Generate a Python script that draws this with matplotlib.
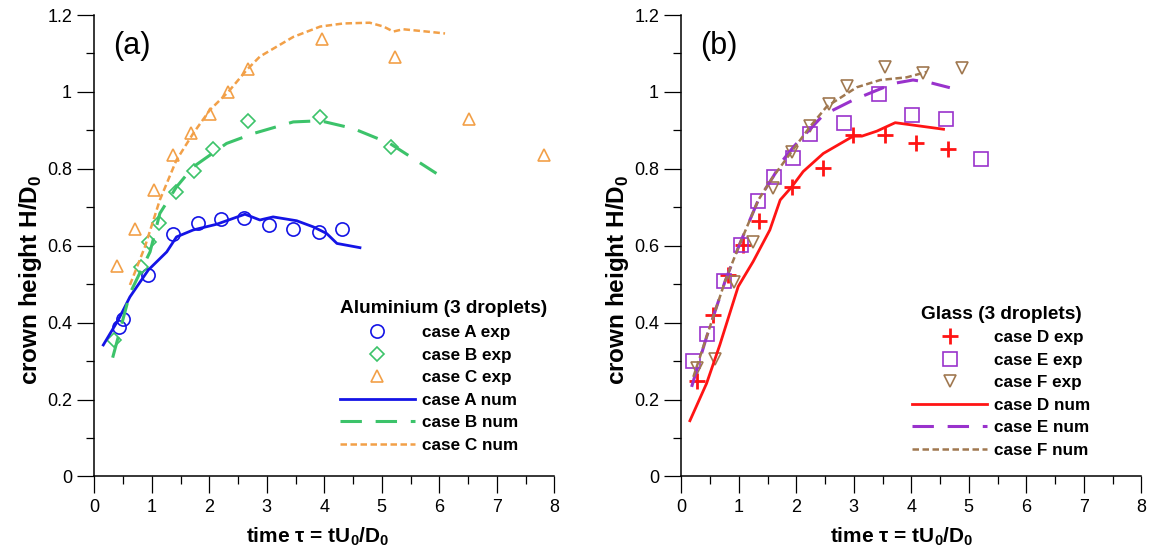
import numpy as np
import matplotlib
matplotlib.use("Agg")
import matplotlib.pyplot as plt
from matplotlib.ticker import MultipleLocator

# ---- data ----
# (a) aluminium, experiments
a_exp_x = [0.435, 0.504, 0.939, 1.363, 1.80, 2.20, 2.61, 3.04, 3.46, 3.90, 4.31]
a_exp_y = [0.389, 0.409, 0.524, 0.630, 0.658, 0.669, 0.671, 0.653, 0.644, 0.636, 0.643]
b_exp_x = [0.348, 0.807, 0.957, 1.13, 1.42, 1.74, 2.06, 2.68, 3.925, 5.16]
b_exp_y = [0.355, 0.544, 0.609, 0.660, 0.740, 0.794, 0.851, 0.925, 0.934, 0.858]
c_exp_x = [0.39, 0.708, 1.038, 1.374, 1.682, 2.012, 2.33, 2.668, 3.955, 5.23, 6.52, 7.82]
c_exp_y = [0.548, 0.644, 0.745, 0.836, 0.892, 0.942, 0.999, 1.059, 1.137, 1.091, 0.930, 0.836]
# (a) aluminium, simulations
a_num_x = [0.157, 0.417, 0.62, 0.94, 1.26, 1.43, 1.72, 2.13, 2.62, 2.88, 3.11, 3.52, 3.81, 4.04, 4.22, 4.62]
a_num_y = [0.342, 0.407, 0.467, 0.537, 0.584, 0.623, 0.641, 0.656, 0.682, 0.667, 0.675, 0.665, 0.649, 0.632, 0.606, 0.595]
b_num_x = [0.32, 0.62, 0.97, 1.14, 1.43, 1.72, 2.30, 2.77, 3.46, 3.93, 4.50, 5.14, 5.95]
b_num_y = [0.309, 0.476, 0.584, 0.684, 0.753, 0.805, 0.866, 0.892, 0.922, 0.925, 0.905, 0.866, 0.788]
c_num_x = [0.62, 0.88, 1.14, 1.43, 1.72, 2.01, 2.33, 2.65, 2.88, 3.46, 3.93, 4.33, 4.79, 5.03, 5.20, 5.37, 5.78, 6.10]
c_num_y = [0.498, 0.597, 0.719, 0.823, 0.892, 0.953, 1.000, 1.057, 1.092, 1.143, 1.170, 1.178, 1.180, 1.170, 1.157, 1.163, 1.157, 1.152]

# (b) glass, experiments
d_exp_x = [0.28, 0.546, 0.817, 1.08, 1.36, 1.92, 2.46, 2.99, 3.55, 4.09, 4.64]
d_exp_y = [0.249, 0.420, 0.524, 0.602, 0.664, 0.753, 0.801, 0.888, 0.888, 0.866, 0.851]
e_exp_x = [0.21, 0.44, 0.743, 1.04, 1.34, 1.62, 1.94, 2.23, 2.83, 3.43, 4.02, 4.60, 5.21]
e_exp_y = [0.300, 0.370, 0.509, 0.602, 0.716, 0.780, 0.829, 0.890, 0.918, 0.994, 0.940, 0.930, 0.825]
f_exp_x = [0.27, 0.586, 0.92, 1.25, 1.60, 1.92, 2.23, 2.57, 2.89, 3.55, 4.21, 4.88]
f_exp_y = [0.281, 0.305, 0.507, 0.610, 0.751, 0.845, 0.911, 0.968, 1.015, 1.066, 1.048, 1.063]
# (b) glass, simulations
d_num_x = [0.15, 0.44, 0.67, 0.99, 1.25, 1.54, 1.72, 1.92, 2.12, 2.47, 2.99, 3.14, 3.40, 3.72, 4.56]
d_num_y = [0.145, 0.242, 0.342, 0.494, 0.559, 0.641, 0.719, 0.753, 0.793, 0.840, 0.885, 0.885, 0.898, 0.920, 0.903]
e_num_x = [0.18, 0.44, 0.76, 1.02, 1.34, 1.60, 1.77, 1.95, 2.47, 2.99, 3.69, 4.03, 4.33, 4.67]
e_num_y = [0.233, 0.363, 0.507, 0.606, 0.719, 0.780, 0.823, 0.857, 0.940, 0.979, 1.022, 1.031, 1.024, 1.011]
f_num_x = [0.21, 0.44, 0.76, 1.02, 1.34, 1.60, 1.92, 2.24, 2.53, 3.05, 3.46, 3.92, 4.27]
f_num_y = [0.259, 0.363, 0.507, 0.606, 0.719, 0.780, 0.845, 0.910, 0.962, 1.012, 1.031, 1.038, 1.052]

BLUE = "#1414e6"
GREEN = "#3cc36a"
ORANGE = "#f2a048"
RED = "#ff1414"
PURPLE = "#9932cc"
BROWN = "#a07850"

plt.rcParams["font.family"] = ["Liberation Sans", "DejaVu Sans"]
plt.rcParams["mathtext.fontset"] = "custom"
plt.rcParams["mathtext.rm"] = "Liberation Sans"
plt.rcParams["mathtext.bf"] = "Liberation Sans:bold"

fig = plt.figure(figsize=(11.51, 5.52), dpi=100)
ax1 = fig.add_axes([0.0819, 0.1368, 0.3997, 0.836])
ax2 = fig.add_axes([0.5919, 0.1368, 0.3997, 0.836])

open_m = dict(linestyle="none", markerfacecolor="none", markeredgewidth=1.2)

ax1.plot(a_exp_x, a_exp_y, marker="o", markersize=9.5, markeredgecolor=BLUE, label="case A exp", **open_m)
ax1.plot(b_exp_x, b_exp_y, marker="D", markersize=7, markeredgecolor=GREEN, label="case B exp", **open_m)
ax1.plot(c_exp_x, c_exp_y, marker="^", markersize=9, markeredgecolor=ORANGE, label="case C exp", **open_m)
ax1.plot(a_num_x, a_num_y, color=BLUE, lw=2, label="case A num")
ax1.plot(b_num_x, b_num_y, color=GREEN, lw=2.2, dashes=(7, 4.5), label="case B num")
ax1.plot(c_num_x, c_num_y, color=ORANGE, lw=1.8, dashes=(2.6, 1.4), label="case C num")

ax2.plot(d_exp_x, d_exp_y, marker="+", markersize=11, markeredgecolor=RED, linestyle="none",
         markeredgewidth=2, label="case D exp")
ax2.plot(e_exp_x, e_exp_y, marker="s", markersize=10, markeredgecolor=PURPLE, label="case E exp", **open_m)
ax2.plot(f_exp_x, f_exp_y, marker="v", markersize=9, markeredgecolor=BROWN, label="case F exp", **open_m)
ax2.plot(d_num_x, d_num_y, color=RED, lw=2, label="case D num")
ax2.plot(e_num_x, e_num_y, color=PURPLE, lw=2.2, dashes=(7, 4.5), label="case E num")
ax2.plot(f_num_x, f_num_y, color=BROWN, lw=1.8, dashes=(2.6, 1.4), label="case F num")

panels = [(ax1, "(a)", "Aluminium (3 droplets)", 0.519, 0.037, 0.486, "left"),
          (ax2, "(b)", "Glass (3 droplets)", 0.487, 0.026, 0.48, "center")]
for ax, tag, title, lx, ly, xlx, align in panels:
    ax.set_xlim(0, 8)
    ax.set_ylim(0, 1.2)
    ax.spines["top"].set_visible(False)
    ax.spines["right"].set_visible(False)
    ax.spines["left"].set_linewidth(1.1)
    ax.spines["bottom"].set_linewidth(1.1)
    ax.xaxis.set_major_locator(MultipleLocator(1))
    ax.xaxis.set_minor_locator(MultipleLocator(0.5))
    ax.yaxis.set_major_locator(MultipleLocator(0.2))
    ax.yaxis.set_minor_locator(MultipleLocator(0.1))
    ax.set_yticks([0, 0.2, 0.4, 0.6, 0.8, 1.0, 1.2])
    ax.set_yticklabels(["0", "0.2", "0.4", "0.6", "0.8", "1", "1.2"])
    ax.tick_params(which="major", direction="out", length=12, width=0.9, labelsize=13, pad=4)
    ax.tick_params(which="minor", direction="out", length=6, width=0.9)
    ax.set_xlabel(r"time $\mathbf{\tau}$ = tU$_\mathbf{0}$/D$_\mathbf{0}$",
                  fontsize=15, fontweight="bold")
    ax.xaxis.set_label_coords(xlx, -0.105)
    ax.set_ylabel(r"crown height H/D$_\mathbf{0}$", fontsize=17.5, fontweight="bold")
    ax.yaxis.set_label_coords(-0.11, 0.426)
    ax.text(0.04, 0.965, tag, transform=ax.transAxes, fontsize=22, va="top", ha="left")
    leg = ax.legend(loc="lower left", bbox_to_anchor=(lx, ly), frameon=False,
                    title=title, handlelength=4.4, handletextpad=0.4, labelspacing=0.44,
                    prop={"weight": "bold", "size": 12.3},
                    title_fontproperties={"weight": "bold", "size": 13.7},
                    borderaxespad=0)
    leg._legend_box.align = align

fig.savefig("out.png", dpi=100)
